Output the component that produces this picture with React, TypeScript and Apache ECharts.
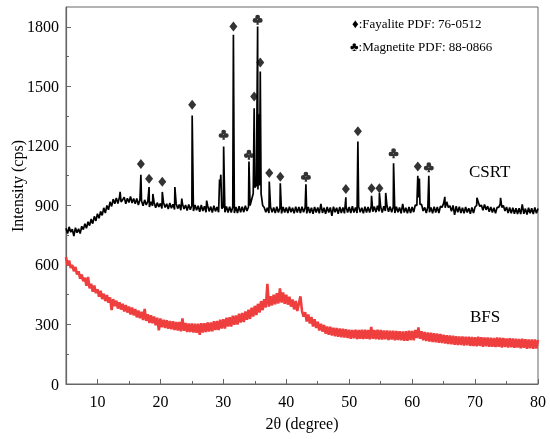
import React, { useEffect, useRef } from "react";
import * as echarts from "echarts";

// 2-theta grid of the scans
const thetaStart = 5;
const thetaStep = 0.25;

// CSRT background trace (values at 5.00, 5.25, 5.50 ... 80.00)
const csrtBase = [
  785, 758, 792, 765,
  780, 745, 788, 762,
  782, 758, 795, 778,
  808, 785, 818, 798,
  832, 808, 845, 822,
  858, 835, 870, 850,
  888, 862, 900, 878,
  918, 895, 932, 908,
  938, 910, 942, 918,
  928, 942, 908, 936,
  915, 945, 912, 935,
  908, 935, 902, 930,
  922, 898, 928, 902,
  920, 892, 918, 898,
  915, 888, 914, 892,
  910, 885, 914, 890,
  908, 882, 912, 886,
  906, 880, 910, 884,
  905, 876, 908, 882,
  902, 874, 905, 878,
  900, 872, 902, 876,
  898, 868, 902, 872,
  896, 866, 900, 870,
  894, 864, 898, 870,
  892, 866, 1000, 884,
  892, 866, 895, 864,
  894, 864, 892, 862,
  892, 862, 896, 866,
  894, 866, 898, 872,
  892, 900, 930, 960,
  990, 1000, 980, 1000,
  960, 900, 890, 866,
  888, 862, 892, 866,
  890, 862, 893, 864,
  888, 860, 892, 864,
  890, 862, 894, 866,
  888, 860, 893, 864,
  892, 862, 894, 866,
  890, 860, 892, 862,
  888, 858, 892, 864,
  890, 860, 908, 862,
  888, 858, 892, 864,
  890, 848, 894, 866,
  888, 858, 892, 862,
  890, 860, 894, 864,
  892, 862, 896, 864,
  890, 862, 894, 866,
  888, 860, 893, 864,
  892, 864, 896, 868,
  894, 866, 898, 870,
  892, 864, 896, 872,
  898, 868, 894, 866,
  892, 862, 894, 866,
  890, 860, 908, 864,
  888, 860, 892, 862,
  892, 866, 902, 900,
  940, 905, 905, 872,
  890, 862, 894, 866,
  890, 860, 894, 864,
  892, 862, 896, 890,
  910, 888, 918, 890,
  898, 870, 900, 852,
  896, 866, 893, 862,
  888, 860, 892, 864,
  886, 858, 890, 862,
  892, 900, 918, 895,
  902, 876, 905, 878,
  896, 868, 892, 864,
  888, 860, 890, 890,
  908, 890, 900, 872,
  892, 862, 890, 860,
  888, 858, 886, 857,
  886, 856, 905, 858,
  884, 854, 888, 860,
  886, 856, 890, 860,
  884,
];

// CSRT diffraction peaks
const csrtPeakTheta = [
  13.6, 16.9, 18.2, 18.8, 20.3, 22.3, 23.4, 25.05, 27.35, 29.4, 29.6, 30.05,
  31.6, 34.07, 34.9, 35.45, 35.65, 35.87, 37.3, 39.05, 43.12, 49.47, 51.38,
  53.55, 54.8, 55.8, 57.05, 60.9, 61.15, 62.65, 65.2, 70.3, 74.05,
];
const csrtPeakIntensity = [
  968, 1054, 993, 958, 968, 993, 935, 1353, 924, 1030, 1055, 1197,
  1760, 1121, 1390, 1802, 1360, 1575, 1020, 1012, 1007, 941, 1222,
  948, 962, 963, 1113, 1049, 1035, 1050, 943, 938, 938,
];

// BFS trace (values at 5.00, 5.25, 5.50 ... 80.00)
const bfsBase = [
  640, 598, 622, 585,
  600, 568, 590, 552,
  568, 530, 552, 518,
  535, 495, 540, 482,
  505, 465, 496, 458,
  478, 440, 470, 428,
  455, 418, 448, 410,
  436, 372, 428, 392,
  420, 380, 412, 375,
  404, 366, 398, 360,
  390, 350, 386, 346,
  378, 336, 370, 332,
  364, 322, 378, 318,
  352, 308, 346, 306,
  340, 296, 334, 270,
  330, 286, 324, 282,
  322, 278, 318, 276,
  316, 272, 312, 270,
  312, 266, 330, 268,
  308, 262, 305, 262,
  305, 260, 304, 258,
  304, 248, 306, 260,
  306, 262, 310, 264,
  310, 266, 316, 272,
  318, 272, 324, 280,
  326, 280, 334, 290,
  336, 290, 344, 298,
  346, 300, 354, 310,
  358, 312, 366, 324,
  374, 328, 384, 340,
  394, 348, 404, 360,
  418, 372, 428, 386,
  505, 390, 442, 396,
  450, 402, 458, 406,
  482, 410, 462, 404,
  450, 400, 440, 390,
  426, 376, 418, 368,
  405, 442, 368, 340,
  362, 315, 350, 305,
  338, 290, 326, 282,
  314, 270, 304, 264,
  298, 254, 290, 248,
  288, 244, 284, 240,
  282, 238, 280, 236,
  278, 234, 276, 232,
  274, 228, 272, 230,
  274, 226, 272, 228,
  273, 226, 274, 228,
  272, 225, 288, 228,
  272, 226, 273, 224,
  272, 224, 270, 225,
  270, 222, 268, 224,
  268, 220, 267, 222,
  266, 220, 265, 218,
  266, 218, 268, 222,
  267, 220, 272, 232,
  285, 228, 266, 220,
  262, 216, 260, 214,
  258, 212, 256, 210,
  254, 208, 252, 206,
  248, 204, 246, 202,
  244, 200, 243, 198,
  241, 196, 240, 196,
  239, 194, 238, 195,
  238, 192, 237, 192,
  236, 190, 238, 192,
  236, 188, 234, 190,
  234, 188, 233, 187,
  232, 186, 234, 188,
  233, 184, 232, 186,
  230, 184, 231, 185,
  230, 182, 228, 184,
  227, 180, 228, 182,
  226, 178, 225, 180,
  225, 178, 224, 179,
  222,
];

// Phase markers
const fayaliteTheta = [16.9, 18.2, 20.3, 25.05, 31.6, 34.9, 35.87, 37.3, 39.05, 49.47, 51.38, 53.55, 54.8, 60.9];
const fayaliteMarkY = [1109, 1034, 1019, 1407, 1802, 1449, 1620, 1063, 1045, 983, 1274, 987, 987, 1096];
const magnetiteTheta = [30.05, 34.07, 35.45, 43.12, 57.05, 62.65];
const magnetiteMarkY = [1256, 1155, 1836, 1045, 1163, 1092];

// Axis ticks
const xMajorTicks = [10, 20, 30, 40, 50, 60, 70, 80];
const xMinorTicks = [15, 25, 35, 45, 55, 65, 75];
const yMajorTicks = [0, 300, 600, 900, 1200, 1500, 1800];
const yMinorTicks = [150, 450, 750, 1050, 1350, 1650];

const legendLines = ["♦:Fayalite PDF: 76-0512", "♣:Magnetite PDF: 88-0866"];

const SERIF = '"Liberation Serif", "Times New Roman", serif';
const AXIS_COLOR = "#666";
const CLUB =
  "path://M50,6A22,22,0,1,1,50,50A22,22,0,1,1,50,6ZM26,38A22,22,0,1,1,26,82A22,22,0,1,1,26,38ZM74,38A22,22,0,1,1,74,82A22,22,0,1,1,74,38ZM46,55L54,55L62,100L38,100Z";

function buildTrace(base: number[], peakX: number[] = [], peakY: number[] = []) {
  const pts: [number, number][] = base.map((v, i) => [thetaStart + i * thetaStep, v]);
  peakX.forEach((x, i) => pts.push([x, peakY[i]]));
  pts.sort((a, b) => a[0] - b[0]);
  return pts;
}

export default function App() {
  const ref = useRef<HTMLDivElement>(null);

  useEffect(() => {
    if (!ref.current) return;
    const chart = echarts.init(ref.current, undefined, { renderer: "svg" });
    const csrt = buildTrace(csrtBase, csrtPeakTheta, csrtPeakIntensity);
    const bfs = buildTrace(bfsBase);

    const baseXAxis = {
      type: "value",
      min: 5,
      max: 80,
      position: "bottom",
      splitLine: { show: false },
    };
    const baseYAxis = {
      type: "value",
      min: 0,
      max: 1900,
      position: "left",
      splitLine: { show: false },
    };
    const plain = (v: number) => String(v);

    chart.setOption({
      animation: false,
      textStyle: { fontFamily: SERIF },
      grid: {
        left: 66,
        right: 12,
        top: 7,
        bottom: 55,
        show: true,
        borderColor: AXIS_COLOR,
        borderWidth: 1,
        outerBoundsMode: "none",
      },
      xAxis: [
        {
          ...baseXAxis,
          name: "2θ (degree)",
          nameLocation: "middle",
          nameGap: 31,
          nameTextStyle: { fontFamily: SERIF, fontSize: 16, color: "#000" },
          axisLine: { show: true, onZero: false, lineStyle: { color: AXIS_COLOR, width: 1.2 } },
          axisTick: { show: true, inside: true, length: 5, customValues: xMajorTicks, lineStyle: { color: AXIS_COLOR } },
          axisLabel: { show: true, customValues: xMajorTicks, formatter: plain, margin: 9, fontSize: 16, color: "#000", fontFamily: SERIF },
        },
        {
          ...baseXAxis,
          axisLine: { show: false, onZero: false },
          axisTick: { show: true, inside: true, length: 3, customValues: xMinorTicks, lineStyle: { color: AXIS_COLOR } },
          axisLabel: { show: false },
        },
      ],
      yAxis: [
        {
          ...baseYAxis,
          axisLine: { show: true, onZero: false, lineStyle: { color: AXIS_COLOR, width: 1.2 } },
          axisTick: { show: true, inside: true, length: 5, customValues: yMajorTicks, lineStyle: { color: AXIS_COLOR } },
          axisLabel: { show: true, customValues: yMajorTicks, formatter: plain, margin: 7, fontSize: 16, color: "#000", fontFamily: SERIF },
        },
        {
          ...baseYAxis,
          axisLine: { show: false, onZero: false },
          axisTick: { show: true, inside: true, length: 3, customValues: yMinorTicks, lineStyle: { color: AXIS_COLOR } },
          axisLabel: { show: false },
        },
      ],
      series: [
        {
          name: "BFS",
          type: "line",
          data: bfs,
          showSymbol: false,
          symbol: "none",
          lineStyle: { color: "#ef3e3e", width: 2.6 },
          z: 2,
        },
        {
          name: "CSRT",
          type: "line",
          data: csrt,
          showSymbol: false,
          symbol: "none",
          lineStyle: { color: "#000", width: 1.7 },
          z: 3,
        },
        {
          name: "Fayalite",
          type: "scatter",
          data: fayaliteTheta.map((x, i) => [x, fayaliteMarkY[i]]),
          symbol: "diamond",
          symbolSize: [8, 10],
          itemStyle: { color: "#000" },
          z: 4,
        },
        {
          name: "Magnetite",
          type: "scatter",
          data: magnetiteTheta.map((x, i) => [x, magnetiteMarkY[i]]),
          symbol: CLUB,
          symbolSize: [10, 10],
          itemStyle: { color: "#000" },
          z: 4,
        },
      ],
      graphic: [
        {
          type: "text",
          x: 17,
          y: 186,
          rotation: Math.PI / 2,
          style: {
            text: "Intensity (cps)",
            font: `16px ${SERIF}`,
            fill: "#000",
            align: "center",
            verticalAlign: "middle",
          },
        },
        {
          type: "text",
          x: 352,
          y: 23,
          style: { text: legendLines[0], font: `13px ${SERIF}`, fill: "#000", align: "left", verticalAlign: "middle" },
        },
        {
          type: "text",
          x: 350,
          y: 46,
          style: { text: legendLines[1], font: `13px ${SERIF}`, fill: "#000", align: "left", verticalAlign: "middle" },
        },
        {
          type: "text",
          x: 469,
          y: 171,
          style: { text: "CSRT", font: `17px ${SERIF}`, fill: "#000", align: "left", verticalAlign: "middle" },
        },
        {
          type: "text",
          x: 470,
          y: 316,
          style: { text: "BFS", font: `17px ${SERIF}`, fill: "#000", align: "left", verticalAlign: "middle" },
        },
      ],
    });
    return () => chart.dispose();
  }, []);

  return (
    <div
      ref={ref}
      style={{ position: "fixed", left: 0, top: 0, width: 550, height: 439 }}
    />
  );
}
